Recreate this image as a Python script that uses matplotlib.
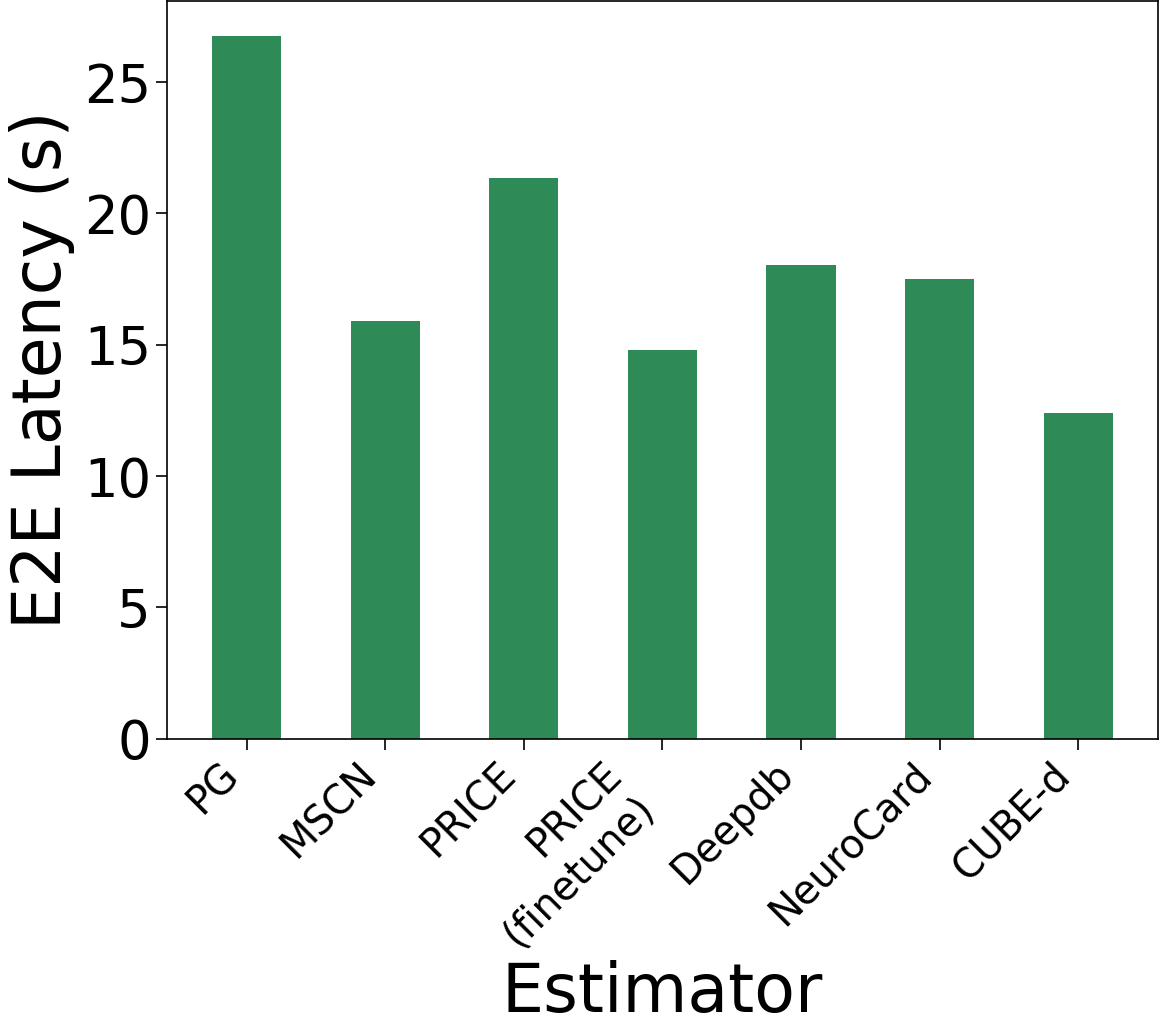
import matplotlib
matplotlib.use("Agg")
import matplotlib.pyplot as plt
import numpy as np

# E2E latency per cardinality estimator
estimators = ["PG", "MSCN", "PRICE", "PRICE\n(finetune)", "Deepdb", "NeuroCard", "CUBE-d"]
latency = [26.75, 15.92, 21.35, 14.82, 18.02, 17.52, 12.42]

fig, ax = plt.subplots(figsize=(11.59, 10.29), dpi=100)
fig.subplots_adjust(left=0.144, right=0.999, top=0.999, bottom=0.282)

x = np.arange(len(estimators))
ax.bar(x, latency, width=0.5, color="seagreen")

ax.set_xticks(x)
ax.set_xticklabels(estimators, rotation=45, ha="right", fontsize=28.5)
ax.tick_params(axis="y", labelsize=38)
ax.tick_params(axis="both", length=8, width=1.2)
for s in ax.spines.values():
    s.set_linewidth(1.2)

ax.set_xlabel("Estimator", fontsize=48)
ax.set_ylabel("E2E Latency (s)", fontsize=48, labelpad=6)

plt.savefig("out.png", dpi=100)
